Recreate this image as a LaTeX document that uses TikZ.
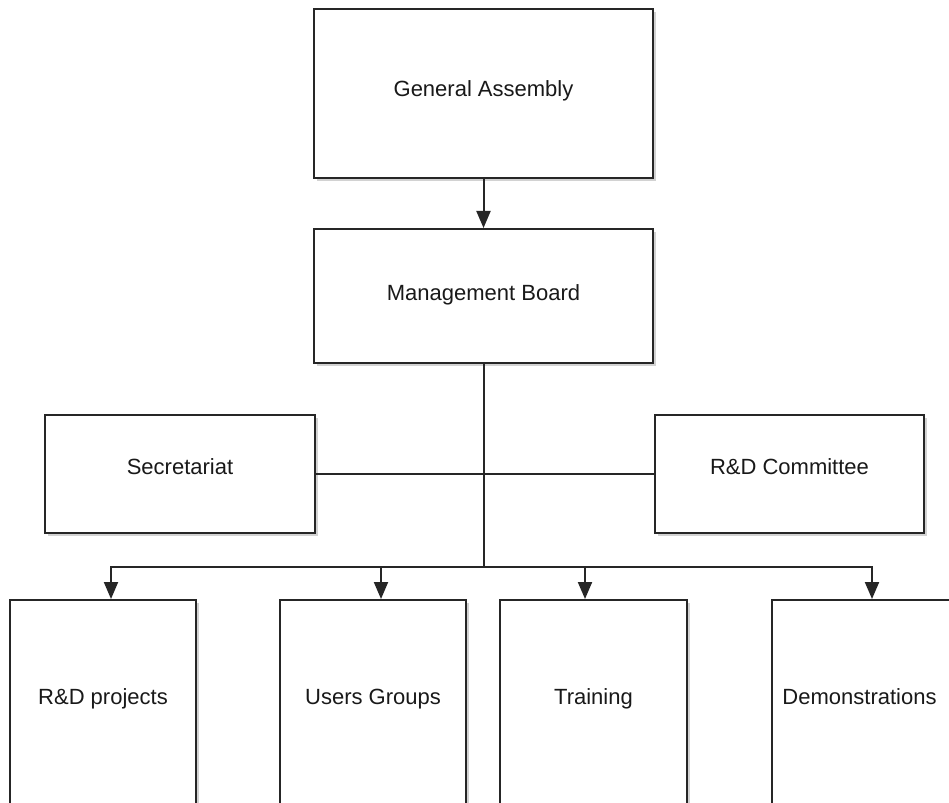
\documentclass[tikz,border=0pt]{standalone}
\usepackage{fontspec}
\setmainfont{Liberation Sans}
\usetikzlibrary{arrows.meta,shadows}
\begin{document}
\begin{tikzpicture}[x=1pt,y=-1pt,
  box/.style={draw=black!85, line width=2pt, fill=white, inner sep=0pt,
    drop shadow={shadow xshift=2.5pt, shadow yshift=-3pt, fill=black!22, opacity=0.8}},
  lbl/.style={text=black!90, font=\fontsize{22}{26}\selectfont, inner sep=0pt,
    text height=16pt, text depth=4.5pt},
  conn/.style={draw=black!85, line width=2pt},
  arr/.style={conn, -{Triangle[length=17pt,width=14pt]}}]
\useasboundingbox (0,0) rectangle (949,802);
\clip (0,0) rectangle (949,802);
\fill[white] (0,0) rectangle (949,802);
% top boxes
\node[box, minimum width=339pt, minimum height=169pt] (ga) at (483.5,93.5) {};
\node[lbl] (gat) at (483.5,91) {General Assembly};
\node[box, minimum width=339pt, minimum height=134pt] (mb) at (483.5,296) {};
\node[lbl] (mbt) at (483.5,295) {Management Board};
% side boxes
\node[box, minimum width=270pt, minimum height=118pt] (sec) at (180,474) {};
\node[lbl] (sect) at (180,469) {Secretariat};
\node[box, minimum width=269pt, minimum height=118pt] (rdc) at (789.5,474) {};
\node[lbl] (rdct) at (789.5,469) {R\&D Committee};
% bottom boxes
\node[box, minimum width=186pt, minimum height=240pt] (rdp) at (103,720) {};
\node[lbl] (rdpt) at (103,699) {R\&D projects};
\node[box, minimum width=186pt, minimum height=240pt] (ug) at (373,720) {};
\node[lbl] (ugt) at (373,699) {Users Groups};
\node[box, minimum width=187pt, minimum height=240pt] (tr) at (593.5,720) {};
\node[lbl] (trt) at (593.5,699) {Training};
\node[box, minimum width=186pt, minimum height=240pt] (dem) at (865,720) {};
\node[lbl] (demt) at (859.5,699) {Demonstrations};
% connectors
\coordinate (bus) at (483.5,567);
\draw[arr] (ga.south) -- (mb.north);
\draw[conn] (mb.south) -- (bus);
\draw[conn] (sec.east) -- (rdc.west);
\draw[arr] (bus) -| ([xshift=8pt]rdp.north);
\draw[arr] (bus) -| ([xshift=8pt]ug.north);
\draw[arr] (bus) -| ([xshift=-8.5pt]tr.north);
\draw[arr] (bus) -| ([xshift=7pt]dem.north);
\end{tikzpicture}
\end{document}
